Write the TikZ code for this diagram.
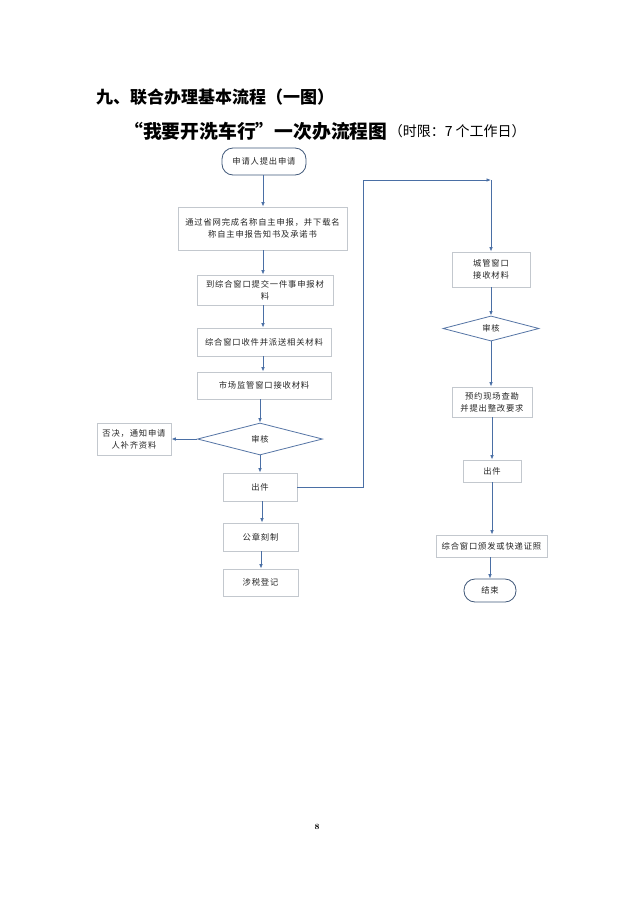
\documentclass[tikz,border=0pt]{standalone}
\usepackage{fontspec}
\newfontfamily\cjk[LetterSpace=10]{Noto Sans CJK SC}
\newfontfamily\cjkt{Noto Sans CJK SC}
\usetikzlibrary{shapes.geometric,arrows.meta}
\definecolor{lineblue}{HTML}{4A6FA5}
\definecolor{boxgray}{HTML}{C3C8CE}
\definecolor{termblue}{HTML}{41597A}
\definecolor{diablue}{HTML}{5575A5}
\tikzset{
  box/.style={draw=boxgray, line width=0.9pt, fill=white, inner sep=1pt, align=center,
    font=\cjk\fontsize{8.3}{12}\selectfont, text=black!85},
  term/.style={box, draw=termblue, line width=0.8pt, rounded corners=11pt},
  dia/.style={box, shape=diamond, draw=diablue, line width=0.8pt, inner sep=0pt},
  arr/.style={draw=lineblue, line width=0.8pt, -{Latex[length=4.5pt,width=3.6pt]}},
}
\begin{document}
\begin{tikzpicture}[x=1pt,y=-1pt]
\useasboundingbox (0,0) rectangle (634,898);
\fill[white] (0,0) rectangle (634,898);
% titles
\node[anchor=west, inner sep=0pt, font=\cjkt\bfseries\fontsize{17}{19}\selectfont] (t1) at (96,97) {九、联合办理基本流程（一图）};
\node[anchor=west, inner sep=0pt, font=\cjkt\bfseries\fontsize{18.8}{20}\selectfont] (t2) at (124,131) {“我要开洗车行”一次办流程图};
\node[anchor=west, inner sep=0pt, font=\cjkt\fontsize{14}{15}\selectfont] (t3) at ([xshift=1pt]t2.east) {（时限：7 个工作日）};
% left column
\node[term, minimum width=84, minimum height=27] (s) at (264,161.5) {申请人提出申请};
\node[box, minimum width=169, minimum height=43] (b2) at (262.5,228.5) {通过省网完成名称自主申报，并下载名\\称自主申报告知书及承诺书};
\node[box, minimum width=136, minimum height=30] (b3) at (265,290) {到综合窗口提交一件事申报材\\料};
\node[box, minimum width=134, minimum height=28] (b4) at (264,342) {综合窗口收件并派送相关材料};
\node[box, minimum width=134, minimum height=27] (b5) at (264,385.5) {市场监管窗口接收材料};
\node[dia, minimum width=125, minimum height=32] (d1) at (260,439) {审核};
\node[box, minimum width=74, minimum height=32] (rj) at (134,439) {否决，通知申请\\人补齐资料};
\node[box, minimum width=74, minimum height=28] (c1) at (260,487) {出件};
\node[box, minimum width=75, minimum height=28] (g) at (260.5,537) {公章刻制};
\node[box, minimum width=75, minimum height=27] (tx) at (260.5,582.5) {涉税登记};
% right column
\coordinate (cor) at (491,180);
\node[box, minimum width=78, minimum height=35] (cg) at (491,269.5) {城管窗口\\接收材料};
\node[dia, minimum width=96, minimum height=21] (d2) at (491,328.5) {审核};
\node[box, minimum width=80, minimum height=30] (yy) at (492,402) {预约现场查勘\\并提出整改要求};
\node[box, minimum width=58, minimum height=22] (c2) at (492,471) {出件};
\node[box, minimum width=111, minimum height=22] (ff) at (491.5,546) {综合窗口颁发或快递证照};
\node[term, minimum width=52, minimum height=23] (e) at (490,590.5) {结束};
% page number
\node[font=\bfseries\fontsize{8}{9}\selectfont, inner sep=0pt] (pn) at (317,827) {8};
% connectors
\draw[arr] (s.south -| 263,0) -- (b2.north -| 263,0);
\draw[arr] (b2.south -| 263,0) -- (b3.north -| 263,0);
\draw[arr] (b3.south -| 263,0) -- (b4.north -| 263,0);
\draw[arr] (b4.south -| 263,0) -- (b5.north -| 263,0);
\draw[arr] (b5.south -| d1.north) -- (d1.north);
\draw[arr] (d1.west) -- (rj.east);
\draw[arr] (d1.south) -- (c1.north);
\draw[arr] (c1.south -| 262,0) -- (g.north -| 262,0);
\draw[arr] (g.south -| 261,0) -- (tx.north -| 261,0);
\draw[arr] (c1.east) -- (363,487) -- (363,180) -- (cor);
\draw[arr] (cor) -- (cg.north);
\draw[arr] (cg.south) -- (d2.north);
\draw[arr] (d2.south) -- (d2.south |- yy.north);
\draw[arr] (yy.south -| c2.north) -- (c2.north);
\draw[arr] (c2.south) -- (c2.south |- ff.north);
\draw[arr] (ff.south -| e.north) -- (e.north);
\end{tikzpicture}
\end{document}
